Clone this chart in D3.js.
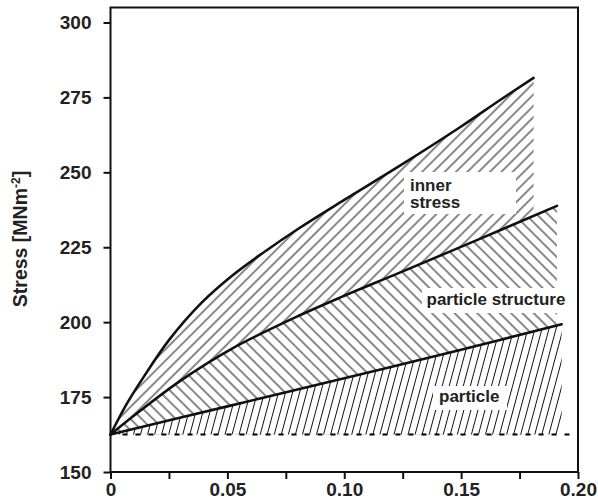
<!DOCTYPE html>
<html><head><meta charset="utf-8">
<script src="https://cdn.jsdelivr.net/npm/d3@7"></script>
<style>body{margin:0;background:#fff} svg{display:block}</style>
</head><body>
<svg id="c" width="598" height="503"></svg>
<script>
// ---- data (strain, stress) ----
const innerX = [0, 0.007, 0.014, 0.025, 0.039, 0.052, 0.065, 0.081, 0.10, 0.124, 0.15, 0.167, 0.181];
const innerY = [162.5, 172.8, 181.5, 194, 206.5, 215.5, 223, 231.5, 240.8, 252.3, 265.3, 274.3, 281.5];
const structX = [0, 0.012, 0.03, 0.052, 0.081, 0.10, 0.124, 0.158, 0.191];
const structY = [162.5, 170, 180.5, 191.2, 202.3, 208.8, 216.6, 227.8, 238.8];
const partX = [0, 0.05, 0.10, 0.15, 0.193];
const partY = [162.5, 171.9, 181.3, 190.8, 199.3];
const baseStress = 162.5;
const xTicks = [0, 0.025, 0.05, 0.075, 0.10, 0.125, 0.15, 0.175, 0.20];
const xTickLabels = ["0", "", "0.05", "", "0.10", "", "0.15", "", "0.20"];
const yTicks = [150, 175, 200, 225, 250, 275, 300];
const yTitle = ["Stress [MNm", "-2", "]"];
const regionLabels = [["inner", "stress"], ["particle structure"], ["particle"]];

const innerPts = innerX.map((v, i) => [v, innerY[i]]);
const structPts = structX.map((v, i) => [v, structY[i]]);
const partPts = partX.map((v, i) => [v, partY[i]]);

const svg = d3.select("#c");
const x = d3.scaleLinear().domain([0, 0.2]).range([110.5, 578]);
const y = d3.scaleLinear().domain([150, 305]).range([472, 7.5]);
const FONT = "'Liberation Sans', Arial, Helvetica, sans-serif";
const CURVE = d3.curveCatmullRom.alpha(0.5);

const defs = svg.append("defs");
function hatch(id, angle, spacing, sw) {
  const p = defs.append("pattern").attr("id", id)
    .attr("patternUnits", "userSpaceOnUse")
    .attr("width", spacing).attr("height", 20)
    .attr("patternTransform", `rotate(${angle})`);
  p.append("line").attr("x1", spacing / 2).attr("x2", spacing / 2)
    .attr("y1", -1).attr("y2", 21)
    .attr("stroke", "#111").attr("stroke-width", sw);
}
hatch("hInner", 45, 8, 1);
hatch("hStruct", -45, 8, 1);
hatch("hPart", 15, 6.8, 1);

const area = d3.area().x(d => x(d[0])).y0(y(baseStress)).y1(d => y(d[1])).curve(CURVE);
const line = d3.line().x(d => x(d[0])).y(d => y(d[1])).curve(CURVE);

function mask(id, upper, lower) {
  const m = defs.append("mask").attr("id", id).attr("maskUnits", "userSpaceOnUse")
    .attr("x", 0).attr("y", 0).attr("width", 598).attr("height", 503);
  m.append("path").attr("d", area(upper)).attr("fill", "#fff");
  m.append("path").attr("d", area(lower)).attr("fill", "#000");
}
mask("mInner", innerPts, structPts);
mask("mStruct", structPts, partPts);

svg.append("rect").attr("x", 0).attr("y", 0).attr("width", 598).attr("height", 503)
  .attr("fill", "url(#hInner)").attr("mask", "url(#mInner)");
svg.append("rect").attr("x", 0).attr("y", 0).attr("width", 598).attr("height", 503)
  .attr("fill", "url(#hStruct)").attr("mask", "url(#mStruct)");
svg.append("path").attr("d", area(partPts)).attr("fill", "url(#hPart)");

// white label boxes
const boxes = [[404, 172, 112, 42], [422, 288, 153, 25], [433, 386, 74, 24]];
svg.selectAll("rect.lb").data(boxes).join("rect").attr("class", "lb")
  .attr("x", d => d[0]).attr("y", d => d[1]).attr("width", d => d[2]).attr("height", d => d[3])
  .attr("fill", "#fff");

// dashed baseline
svg.append("line").attr("x1", x(0) + 12).attr("x2", x(0.2))
  .attr("y1", y(baseStress)).attr("y2", y(baseStress))
  .attr("stroke", "#000").attr("stroke-width", 2).attr("stroke-dasharray", "5,8");

// curves
[innerPts, structPts, partPts].forEach(p => {
  svg.append("path").attr("d", line(p)).attr("fill", "none")
    .attr("stroke", "#111").attr("stroke-width", 2.6).attr("stroke-linecap", "round");
});

// axes
const gy = svg.append("g").attr("transform", `translate(${x(0)},0)`)
  .call(d3.axisLeft(y).tickValues(yTicks).tickSize(7).tickSizeOuter(0).tickPadding(12));
const gx = svg.append("g").attr("transform", `translate(0,${y(150)})`)
  .call(d3.axisBottom(x).tickValues(xTicks).tickSize(7).tickSizeOuter(0).tickPadding(4)
    .tickFormat((d, i) => xTickLabels[i]));
[gx, gy].forEach(g => {
  g.select(".domain").remove();
  g.selectAll("line").attr("stroke", "#111").attr("stroke-width", 2);
  g.selectAll("text").attr("font-family", FONT).attr("font-size", 19)
    .attr("font-weight", "bold").attr("fill", "#222");
});
svg.append("rect").attr("x", x(0)).attr("y", y(305)).attr("width", x(0.2) - x(0))
  .attr("height", y(150) - y(305)).attr("fill", "none").attr("stroke", "#111").attr("stroke-width", 2);

// region labels
const lbl = svg.append("g").attr("font-family", FONT).attr("font-weight", "bold")
  .attr("font-size", 17).attr("fill", "#222");
lbl.append("text").attr("x", 410).attr("y", 190.5).text(regionLabels[0][0]);
lbl.append("text").attr("x", 410).attr("y", 208).text(regionLabels[0][1]);
lbl.append("text").attr("x", 426.5).attr("y", 305).text(regionLabels[1][0]);
lbl.append("text").attr("x", 439).attr("y", 401.5).text(regionLabels[2][0]);

// y title
const yt = svg.append("text").attr("transform", "translate(26.5,239) rotate(-90)")
  .attr("text-anchor", "middle").attr("font-family", FONT).attr("font-weight", "bold")
  .attr("font-size", 19.5).attr("fill", "#222");
yt.append("tspan").text(yTitle[0]);
yt.append("tspan").attr("dy", -7).attr("font-size", 12).text(yTitle[1]);
yt.append("tspan").attr("dy", 7).text(yTitle[2]);
</script>
</body></html>
